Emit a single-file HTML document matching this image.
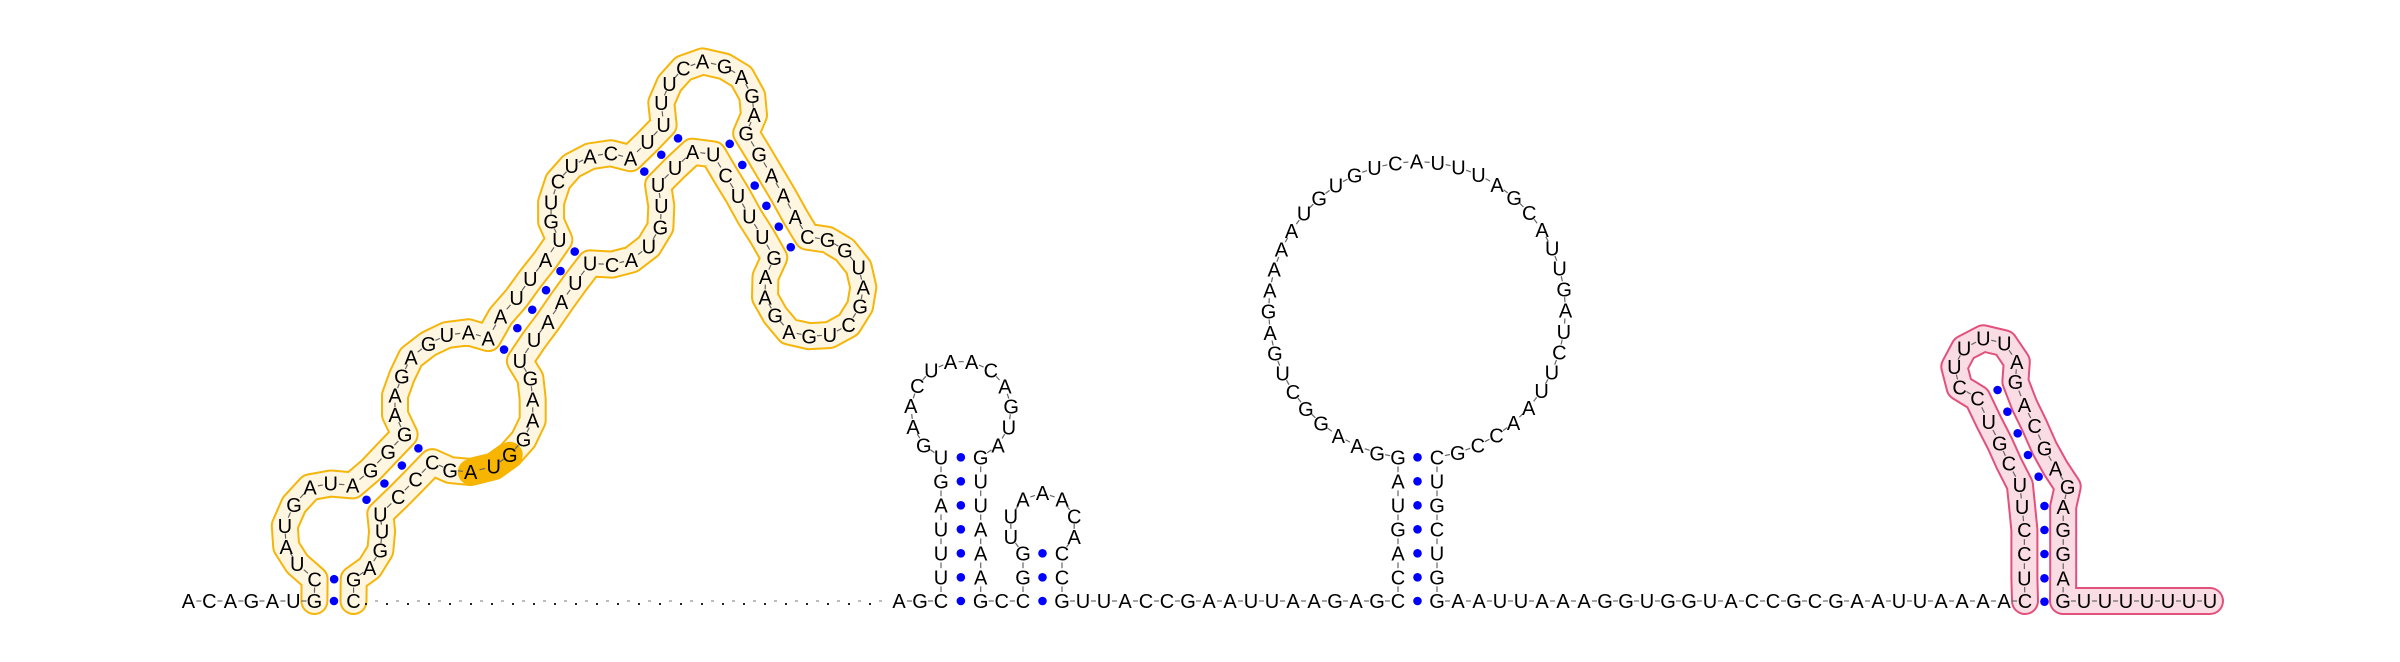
<!DOCTYPE html>
<html><head><meta charset="utf-8"><style>
html,body{margin:0;padding:0;background:#fff;}
svg{display:block;}
text{font-family:"Liberation Sans",sans-serif;font-size:20px;fill:#000;}
</style></head><body>
<svg id="chart" width="2400" height="662" viewBox="0 0 2400 662" xmlns="http://www.w3.org/2000/svg">
<g id="bands"></g>
<g id="dashes"></g>
<g id="gapdots"></g>
<g id="pairs"></g>
<g id="letters"></g>
</svg>
<script>
const NS="http://www.w3.org/2000/svg";
const Y0=601, STEP=21;
// yellow domain (coords read from zoom: x=170+zx/2.178, y=30+zy/2.613)
const yellowSeq=[["C",315,1435],["U",277,1395],["A",253,1350],["U",250,1295],["G",270,1240],["A",305,1195],["U",350,1185],["A",398,1190],["G",437,1150],["G",475,1102],["G",511,1057],["A",490,1005],["A",490,955],["G",505,905],["A",525,855],["G",563,820],["U",603,797],["A",650,790],["A",693,805],["A",720,748],["U",755,700],["U",785,650],["A",818,600],["U",848,548],["G",830,500],["U",830,450],["C",845,395],["U",875,355],["A",915,330],["C",960,322],["A",1003,335],["U",1040,292],["U",1075,248],["U",1070,190],["U",1088,140],["C",1118,100],["A",1160,82],["G",1208,95],["A",1245,122],["G",1268,172],["A",1272,222],["G",1255,270],["G",1283,325],["A",1310,380],["A",1336,432],["A",1362,488],["C",1388,540],["G",1432,548],["G",1470,575],["U",1500,620],["A",1510,672],["G",1503,722],["C",1478,770],["U",1437,797],["G",1392,800],["A",1348,788],["G",1318,745],["A",1296,698],["A",1297,645],["G",1316,595],["U",1290,540],["U",1262,487],["U",1237,433],["C",1210,380],["U",1183,325],["A",1138,318],["U",1100,360],["U",1063,405],["U",1070,460],["G",1068,515],["U",1043,565],["A",1005,600],["C",963,613],["U",915,610],["U",883,660],["A",853,710],["A",823,762],["U",793,810],["U",762,865],["G",785,910],["A",790,965],["A",790,1020],["G",770,1070],["G",740,1110],["U",705,1140],["A",655,1155],["G",610,1150],["C",571,1129],["C",535,1174],["C",497,1220],["U",458,1265],["U",462,1310],["G",458,1360],["A",435,1405],["G",400,1435]];
const yellowPairs=[[0,94],[7,90],[8,89],[9,88],[10,87],[18,78],[19,77],[20,76],[21,75],[22,74],[23,73],[30,67],[31,66],[32,65],[41,64],[42,63],[43,62],[44,61],[45,60],[46,59]];
const pinkSeq=[["U",1085,835],["C",1085,762],["C",1085,690],["U",1080,620],["U",1075,555],["C",1050,490],["G",1030,430],["U",1005,365],["C",980,295],["C",940,262],["U",928,200],["U",950,145],["U",993,115],["U",1040,130],["A",1068,185],["G",1065,245],["A",1085,315],["C",1108,378],["G",1130,445],["A",1155,505],["G",1182,560],["A",1172,620],["G",1172,690],["G",1172,762],["A",1172,835]];
const pinkDots=[[1025,270],[1047,335],[1070,400],[1093,465],[1117,530],[1130,618],[1130,690],[1130,762],[1130,835],[1130,905]];
const yc=(zx,zy)=>[170+zx/2.178,30+zy/2.613];
const pc=(zx,zy)=>[1540+zx/2.24,300+zy/3];

const nodes=[]; // backbone order
const breaks=new Set(); // index after which no dash
const dots=[];
function add(c,x,y){nodes.push({c,x,y});return nodes.length-1;}
function baseRun(str,x){for(const ch of str){add(ch,x,Y0);x+=STEP;}return x;}
function stemUp(str,x){let y=Y0-23.7;const r=[];for(const ch of str){r.push(add(ch,x,y));y-=24;}return r;}
function loop(str,cx,cy,L,R){
  let a1=Math.atan2(L.y-cy,L.x-cx), a2=Math.atan2(R.y-cy,R.x-cx);
  while(a2<=a1)a2+=2*Math.PI;
  const r=Math.hypot(L.x-cx,L.y-cy), n=str.length;
  for(let k=1;k<=n;k++){const a=a1+k*(a2-a1)/(n+1);add(str[k-1],cx+r*Math.cos(a),cy+r*Math.sin(a));}
}
const mid=(a,b)=>[(nodes[a].x+nodes[b].x)/2,(nodes[a].y+nodes[b].y)/2];

// 5' end
baseRun("ACAGAU",188.4);
const yG=add("G",314.4,Y0);
const yStart=nodes.length;
yellowSeq.forEach(d=>{const p=yc(d[1],d[2]);add(d[0],p[0],p[1]);});
const yC=add("C",353.5,Y0);
dots.push(mid(yG,yC));
yellowPairs.forEach(p=>dots.push(mid(yStart+p[0],yStart+p[1])));
breaks.add(yC);
const yellowBand=nodes.slice(yG,yC+1);
const hl=[yStart+85,yStart+84,yStart+83].map(i=>nodes[i]);

// hairpin 1
baseRun("AG",899);
const h1b=add("C",941,Y0);
const h1L=stemUp("UUUAGU",941);
const lTop=nodes[h1L[5]];
const h1R=[]; // placeholder
const loopStart=nodes.length;
// compute right top before loop
const rTop={x:980.7,y:Y0-23.7-24*5};
loop("GAACUAACAGUA",961,411,lTop,rTop);
const rs="GUUAAA";const h1Ridx=[];
for(let k=0;k<6;k++)h1Ridx.push(add(rs[k],980.7,rTop.y+24*k));
const h1bR=add("G",980.7,Y0);
for(let k=0;k<6;k++)dots.push(mid(h1L[k],h1Ridx[5-k]));
dots.push(mid(h1b,h1bR));
// hairpin 2
baseRun("C",1001.7);
const h2b=add("C",1023,Y0);
const h2L=stemUp("GG",1023);
const r2Top={x:1062,y:Y0-23.7-24};
loop("UUAAACA",1042.5,526.3,nodes[h2L[1]],r2Top);
const h2R=[add("C",1062,r2Top.y),add("C",1062,r2Top.y+24)];
const h2bR=add("G",1062,Y0);
dots.push(mid(h2b,h2bR),mid(h2L[0],h2R[1]),mid(h2L[1],h2R[0]));
// big loop
baseRun("UUACCGAAUUAAGAG",1083);
const h3b=add("C",1398,Y0);
const h3L=stemUp("CAGUAG",1398);
const r3Top={x:1437,y:Y0-23.7-24*5};
loop("GAAGGCUGAGAAAAUGUGUCAUUUAGCAUUGAUCUUAACCG",1417,310,nodes[h3L[5]],r3Top);
const r3s="CUGCUG";const h3R=[];
for(let k=0;k<6;k++)h3R.push(add(r3s[k],1437,r3Top.y+24*k));
const h3bR=add("G",1437,Y0);
for(let k=0;k<6;k++)dots.push(mid(h3L[k],h3R[5-k]));
dots.push(mid(h3b,h3bR));
// 3' region
baseRun("AAUUAAAGGUGGUACCGCGAAUUAAAA",1458);
const pC=add("C",2025,Y0);
const pStart=nodes.length;
pinkSeq.forEach(d=>{const p=pc(d[1],d[2]);add(d[0],p[0],p[1]);});
add("G",2063,Y0);
const pEnd=baseRun("UUUUUUU",2084);
const pinkBand=nodes.slice(pC);
pinkDots.forEach(d=>dots.push(pc(d[0],d[1])));

// draw bands
function band(pts,outer,inner,wo,wi,name){
  const g=document.getElementById('bands');
  const d=pts.map((p,i)=>(i?'L':'M')+p.x.toFixed(1)+' '+p.y.toFixed(1)).join(' ');
  [[outer,wo],[inner,wi]].forEach(([col,w],j)=>{
    const el=document.createElementNS(NS,'path');
    el.setAttribute('d',d);el.setAttribute('fill','none');el.setAttribute('stroke',col);
    el.setAttribute('stroke-width',w);el.setAttribute('stroke-linejoin','round');el.setAttribute('stroke-linecap','round');
    
    
    g.appendChild(el);
  });
}
band(yellowBand,'#f5b50a','#fff6e1',28,24,'yellow-domain-band');
band(pinkBand,'#e2507c','#fadde4',28,24,'pink-domain-band');
// orange highlight (AUG)
(function(){
  const el=document.createElementNS(NS,'path');
  el.setAttribute('d',hl.map((p,i)=>(i?'L':'M')+p.x+' '+p.y).join(' '));
  el.setAttribute('fill','none');el.setAttribute('stroke','#f7b500');el.setAttribute('stroke-width',26);
  el.setAttribute('stroke-linecap','round');el.setAttribute('stroke-linejoin','round');
  
  
  document.getElementById('bands').appendChild(el);
})();
// dashes
const dg=document.getElementById('dashes');
for(let i=0;i<nodes.length-1;i++){
  if(breaks.has(i))continue;
  const a=nodes[i],b=nodes[i+1];
  const ln=document.createElementNS(NS,'line');
  ln.setAttribute('x1',a.x+(b.x-a.x)*0.38);ln.setAttribute('y1',a.y+(b.y-a.y)*0.38);
  ln.setAttribute('x2',a.x+(b.x-a.x)*0.62);ln.setAttribute('y2',a.y+(b.y-a.y)*0.62);
  ln.setAttribute('stroke','#666');ln.setAttribute('stroke-width','1.2');
  
  
  dg.appendChild(ln);
}
// gap dots
const gg=document.getElementById('gapdots');
let k=0;
for(let x=366;x<=890;x+=10.5,k++){
  const r=document.createElementNS(NS,'rect');
  if(k%2===0){r.setAttribute('x',x-1);r.setAttribute('y',Y0+2);r.setAttribute('width',2);r.setAttribute('height',2);r.setAttribute('fill','#222');}
  else{r.setAttribute('x',x-1.5);r.setAttribute('y',Y0-0.5);r.setAttribute('width',3);r.setAttribute('height',1);r.setAttribute('fill','#777');}
  
  
  gg.appendChild(r);
}
// pair dots
const pg=document.getElementById('pairs');
dots.forEach(d=>{
  const c=document.createElementNS(NS,'circle');
  c.setAttribute('cx',d[0]);c.setAttribute('cy',d[1]);c.setAttribute('r',4.3);c.setAttribute('fill','#0000ff');
  
  
  pg.appendChild(c);
});
// letters
const lg=document.getElementById('letters');
nodes.forEach(n=>{
  const t=document.createElementNS(NS,'text');
  t.setAttribute('x',n.x.toFixed(1));t.setAttribute('y',(n.y+7.2).toFixed(1));
  t.setAttribute('text-anchor','middle');
  t.textContent=n.c;
  
  
  lg.appendChild(t);
});
</script>
</body></html>
